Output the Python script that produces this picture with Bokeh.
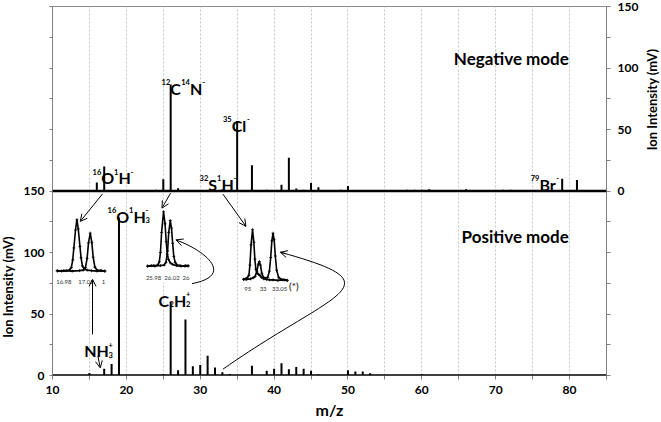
import math
from bokeh.plotting import figure
from bokeh.layouts import row
from bokeh.models import (Range1d, LinearAxis, FixedTicker, Span, Label, Arrow,
                          OpenHead, ColumnDataSource)
from bokeh.core.properties import value
from bokeh.embed import file_html
from bokeh.resources import INLINE

FONT = "Lato"

# ---------------- data ----------------
# Negative mode spectrum (m/z, ion intensity in mV)
neg_mz = [16, 17, 24, 25, 26, 27, 32, 33, 35, 37, 39, 41, 42, 43, 44, 45, 46,
          49, 50, 58, 59, 60, 61, 66, 71, 72, 79, 81]
neg_int = [7, 20, 1, 9.5, 86.5, 2.3, 1.5, 1.5, 57, 21, 1, 5, 27, 2, 1, 6.5, 3,
           1, 4, 1, 1, 1, 1.5, 1.5, 1, 1, 10, 9]

# Positive mode spectrum
pos_mz = [15, 17, 18, 19, 21, 25, 26, 27, 28, 29, 30, 31, 32, 33, 34, 37, 39,
          40, 41, 42, 43, 44, 45, 46, 50, 51, 52, 53, 54, 60]
pos_int = [2, 5.4, 9.4, 128.5, 0.5, 1, 60, 4.3, 45.5, 7.5, 8.6, 16, 6.5, 2.7,
           1.3, 8, 3.8, 5.4, 10, 5, 7, 5.4, 3.8, 1, 4.3, 3.2, 3.2, 1.9, 0.7, 1]

# Inset 1 (m/z 17): OH- and NH3+ peaks (normalised intensity)
ins1_a_mz = [16.968, 16.976, 16.984, 16.990, 16.9935, 16.996, 16.998, 17.001, 17.0035,
             17.006, 17.009, 17.011, 17.0135, 17.017, 17.022, 17.030, 17.040, 17.048, 17.054]
ins1_a_int = [0.01, 0.00, 0.01, 0.02, 0.07, 0.22, 0.45, 0.80, 1.00,
              0.82, 0.48, 0.26, 0.10, 0.04, 0.02, 0.01, 0.00, 0.01, 0.00]
ins1_b_mz = [16.968, 16.980, 16.995, 17.008, 17.015, 17.019, 17.022, 17.0245, 17.0276,
             17.0305, 17.033, 17.036, 17.040, 17.046, 17.054]
ins1_b_int = [0.00, 0.01, 0.00, 0.01, 0.02, 0.07, 0.25, 0.55, 0.74,
              0.56, 0.27, 0.08, 0.02, 0.01, 0.00]
ins1_ticks = [16.98, 17.02, 17.0517]
ins1_tick_labels = ["16.98", "17.02", "1"]

# Inset 2 (m/z 26): CN- and C2H2+ peaks
ins2_a_mz = [25.967, 25.975, 25.983, 25.989, 25.9925, 25.995, 25.9975, 26.0017, 26.0050,
             26.0075, 26.0100, 26.0125, 26.0165, 26.022, 26.030, 26.040, 26.050, 26.055]
ins2_a_int = [0.00, 0.01, 0.00, 0.02, 0.08, 0.25, 0.62, 1.00, 0.78,
              0.45, 0.22, 0.12, 0.06, 0.03, 0.01, 0.00, 0.01, 0.00]
ins2_b_mz = [25.967, 25.980, 25.995, 26.003, 26.007, 26.0105, 26.013, 26.0163, 26.019,
             26.0215, 26.024, 26.027, 26.031, 26.038, 26.048, 26.055]
ins2_b_int = [0.00, 0.01, 0.01, 0.02, 0.07, 0.28, 0.62, 0.84, 0.70,
              0.42, 0.18, 0.07, 0.02, 0.01, 0.00, 0.01]
ins2_ticks = [25.98, 26.02, 26.0505]
ins2_tick_labels = ["25.98", "26.02", "26"]

# Inset 3 (m/z 33)
ins3_a_mz = [32.941, 32.947, 32.952, 32.957, 32.960, 32.9635, 32.968, 32.972, 32.975,
             32.978, 32.982, 32.986, 32.990, 32.995, 33.002, 33.010, 33.020, 33.030,
             33.045, 33.060, 33.073]
ins3_a_int = [0.02, 0.03, 0.05, 0.10, 0.30, 0.70, 1.00, 0.75, 0.42,
              0.22, 0.14, 0.12, 0.10, 0.06, 0.03, 0.02, 0.01, 0.01,
              0.00, 0.01, 0.00]
ins3_b_mz = [32.941, 32.950, 32.962, 32.970, 32.976, 32.981, 32.9855, 32.9886, 32.992,
             32.996, 33.001, 33.008, 33.014, 33.019, 33.023, 33.0265, 33.030, 33.0335,
             33.037, 33.041, 33.047, 33.055, 33.065, 33.073]
ins3_b_int = [0.02, 0.02, 0.03, 0.05, 0.08, 0.18, 0.32, 0.37, 0.30,
              0.14, 0.06, 0.04, 0.06, 0.18, 0.45, 0.78, 0.93, 0.80,
              0.48, 0.20, 0.06, 0.02, 0.01, 0.00]
ins3_ticks = [32.9536, 33.00, 33.05]
ins3_tick_labels = ["95", "33", "33.05"]

# Axis ticks / labels
x_ticks = list(range(10, 86, 5))
x_tick_labels = {t: (str(t) if t % 10 == 0 else "") for t in x_ticks}
left_ticks = list(range(0, 301, 25))
left_tick_labels = {t: (str(t) if t in (0, 50, 100, 150) else "") for t in left_ticks}
right_ticks = list(range(-150, 151, 25))
right_tick_labels = {t: (str(t) if t in (0, 50, 100, 150) else "") for t in right_ticks}
y_title = "Ion Intensity (mV)"

# Peak annotations: formula parts, left x (m/z), baseline y on the stacked 0-300 scale
peak_labels = [
    [("16", "sup"), ("O", "big"), ("1", "sup"), ("H", "big"), ("-", "sup")],
    [("12", "sup"), ("C", "big"), ("14", "sup"), ("N", "big"), ("-", "sup")],
    [("35", "sup"), ("Cl", "big"), ("-", "sup")],
    [("32", "sup"), ("S", "big"), ("1", "sup"), ("H", "big"), ("-", "sup")],
    [("79", "sup"), ("Br", "big"), ("-", "sup")],
    [("16", "sup"), ("O", "big"), ("1", "sup"), ("H", "big"), ("3", "sub"), ("-", "sup")],
    [("C", "big"), ("2", "sub"), ("H", "big"), ("2", "sub"), ("+", "sup")],
    [("NH", "big"), ("3", "sub"), ("+", "sup")],
]
peak_label_x = [15.42, 24.76, 33.08, 29.91, 74.74, 17.45, 24.36, 14.29]
peak_label_y = [160.8, 233.6, 203.4, 155.5, 155.5, 129.3, 61.0, 20.0]

# ---------------- layout constants ----------------
H = 422
TOP, BOTTOM = 6, 47
LEFT_W, RIGHT_W = 16, 20
MAIN_W = 661 - LEFT_W - RIGHT_W

# ---------------- main figure ----------------
p = figure(width=MAIN_W, height=H, x_range=Range1d(10, 85), y_range=Range1d(0, 300),
           output_backend="svg", toolbar_location=None,
           min_border_left=36, min_border_right=35, min_border_top=TOP,
           min_border_bottom=BOTTOM)
p.background_fill_color = "white"
p.border_fill_color = "white"
p.outline_line_color = "#8c8c8c"
p.outline_line_width = 1


def inset_ranges(xa, xb, Xa, Xb, Ya, Yb):
    sx = (xb - xa) / (Xb - Xa)
    xr = Range1d(xa + (10 - Xa) * sx, xa + (85 - Xa) * sx)
    sy = 1.0 / (Yb - Ya)
    yr = Range1d((0 - Ya) * sy, (300 - Ya) * sy)
    return xr, yr


r1x, r1y = inset_ranges(16.98, 17.02, 11.544, 14.537, 84.86, 126.65)
r2x, r2y = inset_ranges(25.98, 26.02, 23.68, 26.172, 88.90, 133.11)
r3x, r3y = inset_ranges(33.00, 33.05, 38.512, 40.747, 77.35, 118.56)
p.extra_x_ranges = {"i1": r1x, "i2": r2x, "i3": r3x}
p.extra_y_ranges = {"neg": Range1d(-150, 150), "i1": r1y, "i2": r2y, "i3": r3y}

# grid
p.ygrid.visible = False
p.xgrid.ticker = FixedTicker(ticks=x_ticks)
p.xgrid.grid_line_color = "#c4c4c4"
p.xgrid.grid_line_dash = "2 2"
p.xgrid.grid_line_width = 1

AX = "#808080"


def style_axis(ax, tick_out, standoff):
    ax.axis_line_color = AX
    ax.major_tick_line_color = AX
    ax.major_tick_out = tick_out
    ax.major_tick_in = 0
    ax.minor_tick_out = 0
    ax.minor_tick_in = 0
    ax.major_label_text_font = FONT
    ax.major_label_text_font_style = "bold"
    ax.major_label_text_font_size = "12px"
    ax.major_label_text_color = "black"
    ax.major_label_standoff = standoff


xa = p.xaxis[0]
xa.ticker = FixedTicker(ticks=x_ticks)
xa.major_label_overrides = x_tick_labels
style_axis(xa, 4, 6)
xa.axis_label = "m/z"
xa.axis_label_text_font = FONT
xa.axis_label_text_font_style = "bold"
xa.axis_label_text_font_size = "16px"
xa.axis_label_text_color = "black"
xa.axis_label_standoff = 3

ya = p.yaxis[0]
ya.ticker = FixedTicker(ticks=left_ticks)
ya.major_label_overrides = left_tick_labels
style_axis(ya, 3, 5)

ra = LinearAxis(y_range_name="neg", ticker=FixedTicker(ticks=right_ticks),
                major_label_overrides=right_tick_labels)
style_axis(ra, 4, 7)
p.add_layout(ra, "right")

# inset white backgrounds
p.quad(left=[16.9691], right=[17.0547], bottom=[-0.3], top=[1.12],
       x_range_name="i1", y_range_name="i1", fill_color="white", line_color=None)
p.quad(left=[25.967], right=[26.0554], bottom=[-0.3], top=[1.12],
       x_range_name="i2", y_range_name="i2", fill_color="white", line_color=None)
p.quad(left=[32.9406], right=[33.0733], bottom=[-0.3], top=[1.16],
       x_range_name="i3", y_range_name="i3", fill_color="white", line_color=None)

# spectra stems
neg_src = ColumnDataSource(dict(mz=neg_mz, val=neg_int))
pos_src = ColumnDataSource(dict(mz=pos_mz, val=pos_int))
p.segment(x0="mz", y0=0, x1="mz", y1="val", source=pos_src,
          line_color="black", line_width=2)
p.segment(x0="mz", y0=0, x1="mz", y1="val", source=neg_src, y_range_name="neg",
          line_color="black", line_width=2)

# baselines
p.add_layout(Span(location=0, dimension="width", line_color="black", line_width=2.5))
p.add_layout(Span(location=150, dimension="width", line_color="black", line_width=2.5))

# insets
insets = [
    ("i1", [(ins1_a_mz, ins1_a_int), (ins1_b_mz, ins1_b_int)], ins1_ticks, ins1_tick_labels, -0.21),
    ("i2", [(ins2_a_mz, ins2_a_int), (ins2_b_mz, ins2_b_int)], ins2_ticks, ins2_tick_labels, -0.21),
    ("i3", [(ins3_a_mz, ins3_a_int), (ins3_b_mz, ins3_b_int)], ins3_ticks, ins3_tick_labels, -0.17),
]
for name, curves, ticks, tlabels, ty in insets:
    for cx, cy in curves:
        p.line(cx, cy, x_range_name=name, y_range_name=name,
               line_color="black", line_width=1.6)
        p.scatter(cx, cy, x_range_name=name, y_range_name=name, marker="cross",
                  size=3, line_color="black", line_width=0.8)
    p.text(x=ticks, y=[ty] * len(ticks), text=tlabels,
           x_range_name=name, y_range_name=name,
           text_font=value(FONT), text_font_size="6px", text_color="#333333",
           text_align="center", text_baseline="middle")

p.text(x=[33.0933], y=[-0.12], text=["(*)"], x_range_name="i3", y_range_name="i3",
       text_font=value(FONT), text_font_size="10px", text_color="black",
       text_align="center", text_baseline="middle")

# peak labels built from big / superscript / subscript runs
BIG, SMALL = 16.0, 7.5
W = {"0": 0.58, "1": 0.58, "2": 0.58, "3": 0.58, "4": 0.58, "5": 0.58, "6": 0.58,
     "7": 0.58, "8": 0.58, "9": 0.58, "C": 0.69, "N": 0.76, "O": 0.80, "H": 0.76,
     "S": 0.55, "B": 0.67, "r": 0.39, "l": 0.27, "-": 0.40, "+": 0.58}
for parts, lx, ly in zip(peak_labels, peak_label_x, peak_label_y):
    off = 0.0
    prev_kind, prev_start = None, 0.0
    for txt, kind in parts:
        size = BIG if kind == "big" else SMALL
        w = sum(W[c] for c in txt) * size
        start = prev_start if (kind == "sup" and prev_kind == "sub") else off
        yoff = {"big": 0, "sup": 6.2, "sub": -3.6}[kind]
        p.add_layout(Label(x=lx, y=ly, x_offset=start, y_offset=yoff, text=txt,
                           text_font=FONT, text_font_style="bold",
                           text_font_size=f"{size}px", text_color="black",
                           text_align="left", text_baseline="alphabetic"))
        off = max(off, start + w)
        prev_kind, prev_start = kind, start

# mode titles
p.add_layout(Label(x=79.9, y=257.6, text="Negative mode", text_font=FONT,
                   text_font_style="bold", text_font_size="17px", text_align="right",
                   text_baseline="alphabetic", text_color="black"))
p.add_layout(Label(x=79.9, y=112.9, text="Positive mode", text_font=FONT,
                   text_font_style="bold", text_font_size="17px", text_align="right",
                   text_baseline="alphabetic", text_color="black"))

# straight arrows
head = dict(size=7, line_width=1, line_color="black")
straight = [
    (16.772, 147.66, 13.752, 125.27),
    (25.983, 148.22, 24.818, 136.10),
    (33.080, 147.42, 36.195, 121.23),
    (15.418, 33.46, 15.418, 78.15),
    (16.149, 15.92, 16.461, 6.22),
]
for x0, y0, x1, y1 in straight:
    p.add_layout(Arrow(end=OpenHead(**head), x_start=x0, y_start=y0, x_end=x1, y_end=y1,
                       line_color="black", line_width=1))

# curved arrows (cubic beziers)
curves = [
    ((28.881, 74.68), (34.746, 81.39), (30.683, 101.59), (26.714, 110.24)),
    ((33.080, 5.17), (48.291, 69.26), (57.095, 73.30), (40.841, 100.22)),
]
for P0, P1, P2, P3 in curves:
    p.bezier(x0=[P0[0]], y0=[P0[1]], x1=[P3[0]], y1=[P3[1]],
             cx0=[P1[0]], cy0=[P1[1]], cx1=[P2[0]], cy1=[P2[1]],
             line_color="black", line_width=1)
    sx0 = P3[0] - 0.04 * (P3[0] - P2[0])
    sy0 = P3[1] - 0.04 * (P3[1] - P2[1])
    p.add_layout(Arrow(end=OpenHead(**head), x_start=sx0, y_start=sy0,
                       x_end=P3[0], y_end=P3[1], line_color="black", line_width=1))


# ---------------- side strips carrying the rotated y-axis titles ----------------
def side_strip(width, xpos, ypos):
    s = figure(width=width, height=H, x_range=Range1d(0, 1), y_range=Range1d(0, 300),
               output_backend="svg", toolbar_location=None,
               x_axis_location=None, y_axis_location=None,
               min_border_left=0, min_border_right=0, min_border_top=TOP,
               min_border_bottom=BOTTOM)
    s.grid.visible = False
    s.outline_line_color = None
    s.background_fill_color = "white"
    s.border_fill_color = "white"
    s.text(x=[xpos], y=[ypos], text=[y_title], angle=math.pi / 2,
           text_font=value(FONT), text_font_style="bold", text_font_size="13px",
           text_color="black", text_align="center", text_baseline="middle")
    return s


left_strip = side_strip(LEFT_W, 0.46, 72)
right_strip = side_strip(RIGHT_W, 0.53, 224.4)

layout = row(left_strip, p, right_strip, spacing=0)
open("out.html", "w").write(file_html(layout, INLINE))
